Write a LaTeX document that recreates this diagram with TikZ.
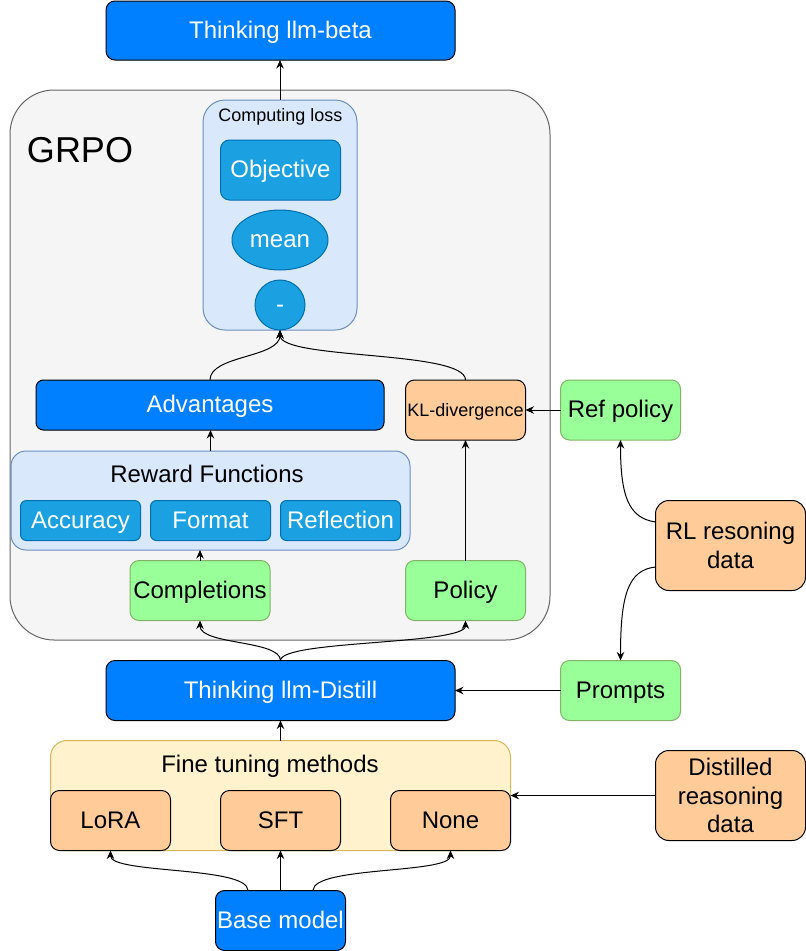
\documentclass[tikz,border=0pt]{standalone}
\usepackage{fontspec}
\setmainfont{Liberation Sans}
\usetikzlibrary{arrows.meta,shapes.geometric}
\definecolor{cblue}{HTML}{007FFF}
\definecolor{ccyan}{HTML}{1BA1E2}
\definecolor{ccyanb}{HTML}{006EAF}
\definecolor{cgreyf}{HTML}{F5F5F5}
\definecolor{cgreyb}{HTML}{666666}
\definecolor{clbluef}{HTML}{DAE8FC}
\definecolor{clblueb}{HTML}{6C8EBF}
\definecolor{cpeach}{HTML}{FFCC99}
\definecolor{cgreen}{HTML}{99FF99}
\definecolor{cgreenb}{HTML}{82B366}
\definecolor{cyelf}{HTML}{FFF2CC}
\definecolor{cyelb}{HTML}{D6B656}
\newcommand{\myfsL}{\fontsize{24}{28.5}\selectfont}
\newcommand{\myfsS}{\fontsize{18}{21.6}\selectfont}
\newcommand{\myfsXL}{\fontsize{36}{43}\selectfont}
\tikzset{
  nbase/.style={line width=1pt, inner sep=0pt, outer sep=0pt, align=center},
  oneline/.style={text height=15.6pt, text depth=0pt},
  smallline/.style={text height=12pt, text depth=0pt, font=\myfsS},
  bluebox/.style={nbase, oneline, draw=black, fill=cblue, text=white, font=\myfsL, rounded corners=9pt},
  cyanbox/.style={nbase, oneline, draw=ccyanb, fill=ccyan, text=white, font=\myfsL},
  peachbox/.style={nbase, draw=black, fill=cpeach, text=black, font=\myfsL, rounded corners=9pt},
  greenbox/.style={nbase, oneline, draw=cgreenb, fill=cgreen, text=black, font=\myfsL, rounded corners=9pt},
  lbl/.style={nbase, oneline, font=\myfsL},
  arr/.style={line width=1pt, draw=black, -{Stealth[length=8.5pt,width=7.5pt]}},
}
\begin{document}
\begin{tikzpicture}[x=1pt,y=-1pt]
\useasboundingbox (0,0) rectangle (806,951);
% containers
\node[nbase, draw=cgreyb, fill=cgreyf, rounded corners=44pt, minimum width=540pt, minimum height=550pt] (grpo) at (280,365) {};
\node[nbase, font=\myfsXL, text height=25.8pt, text depth=0pt] (grpolbl) at (80,150) {GRPO};
\node[nbase, draw=clblueb, fill=clbluef, rounded corners=22pt, minimum width=154pt, minimum height=230pt] (loss) at (280,215) {};
\node[nbase, smallline] (losslbl) at (280.5,115.5) {Computing loss};
\node[nbase, draw=clblueb, fill=clbluef, rounded corners=15pt, minimum width=399pt, minimum height=99pt] (rf) at (210.5,500.5) {};
\node[lbl] (rflbl) at (207,475) {Reward Functions};
\node[nbase, draw=cyelb, fill=cyelf, rounded corners=16.5pt, minimum width=460pt, minimum height=110pt] (ft) at (280.5,795.5) {};
\node[lbl] (ftlbl) at (270,765) {Fine tuning methods};
% nodes
\node[bluebox, minimum width=349pt, minimum height=59pt] (beta) at (280.5,30.5) {Thinking llm-beta};
\node[cyanbox, rounded corners=9pt, minimum width=120pt, minimum height=60pt] (obj) at (280.5,170) {Objective};
\node[cyanbox, ellipse, minimum width=96pt, minimum height=60pt] (mean) at (280,240) {mean};
\node[cyanbox, circle, minimum size=50pt] (minus) at (280,305) {-};
\node[bluebox, rounded corners=7.5pt, minimum width=348pt, minimum height=50pt] (adv) at (210,405) {Advantages};
\node[peachbox, smallline, minimum width=120pt, minimum height=60pt] (kl) at (465.5,410) {KL-divergence};
\node[greenbox, minimum width=120pt, minimum height=60pt] (ref) at (620.5,410) {Ref policy};
\node[cyanbox, rounded corners=6pt, minimum width=120pt, minimum height=40pt] (acc) at (80.5,520.5) {Accuracy};
\node[cyanbox, rounded corners=6pt, minimum width=120pt, minimum height=40pt] (fmt) at (210.5,520.5) {Format};
\node[cyanbox, rounded corners=6pt, minimum width=120pt, minimum height=40pt] (refl) at (340.5,520.5) {Reflection};
\node[greenbox, minimum width=140pt, minimum height=60pt] (comp) at (200,590.5) {Completions};
\node[greenbox, minimum width=120pt, minimum height=60pt] (pol) at (465.5,590.5) {Policy};
\node[peachbox, rounded corners=13.5pt, minimum width=150pt, minimum height=90pt] (rl) at (730.5,545.5) {RL resoning\\data};
\node[bluebox, minimum width=349pt, minimum height=60pt] (distill) at (280.5,690.5) {Thinking llm-Distill};
\node[greenbox, minimum width=120pt, minimum height=60pt] (prompts) at (620.5,690.5) {Prompts};
\node[peachbox, oneline, minimum width=120pt, minimum height=60pt] (lora) at (110.5,820.5) {LoRA};
\node[peachbox, oneline, minimum width=120pt, minimum height=60pt] (sft) at (280.5,820.5) {SFT};
\node[peachbox, oneline, minimum width=120pt, minimum height=60pt] (none) at (450.5,820.5) {None};
\node[peachbox, rounded corners=13.5pt, minimum width=150pt, minimum height=90pt] (dist) at (730.5,795.5) {Distilled\\reasoning\\data};
\node[bluebox, minimum width=130pt, minimum height=60pt] (basem) at (280.5,920.5) {Base model};
% connectors
\draw[arr] (loss.north) -- (loss.north |- beta.south);
\draw[arr] (adv.north) .. controls (210,355) and (280,358) .. (minus.south);
\draw[arr] (kl.north) .. controls (465.5,350) and (280,360) .. (minus.south);
\draw[arr] (rf.north) -- (rf.north |- adv.south);
\draw[arr] (comp.north) -- (comp.north |- rf.south);
\draw[arr] (pol.north) -- (kl.south);
\draw[arr] (ref.west) -- (kl.east);
\draw[arr] ([yshift=23.5pt]rl.west) .. controls (628,518) and (620.5,495) .. (ref.south);
\draw[arr] ([yshift=-21.5pt]rl.west) .. controls (628,570) and (620.5,595) .. (prompts.north);
\draw[arr] (prompts.west) -- (distill.east);
\draw[arr] (distill.north) .. controls (280.5,640) and (200,645) .. (comp.south);
\draw[arr] (distill.north) .. controls (280.5,640) and (465.5,645) .. (pol.south);
\draw[arr] (ft.north) -- (distill.south);
\draw[arr] (dist.west) -- (dist.west -| ft.east);
\draw[arr] ([xshift=-32.5pt]basem.north) .. controls (248,866) and (110.5,874) .. (lora.south);
\draw[arr] (basem.north) -- (sft.south);
\draw[arr] ([xshift=32.5pt]basem.north) .. controls (313,866) and (450.5,874) .. (none.south);
\end{tikzpicture}
\end{document}
